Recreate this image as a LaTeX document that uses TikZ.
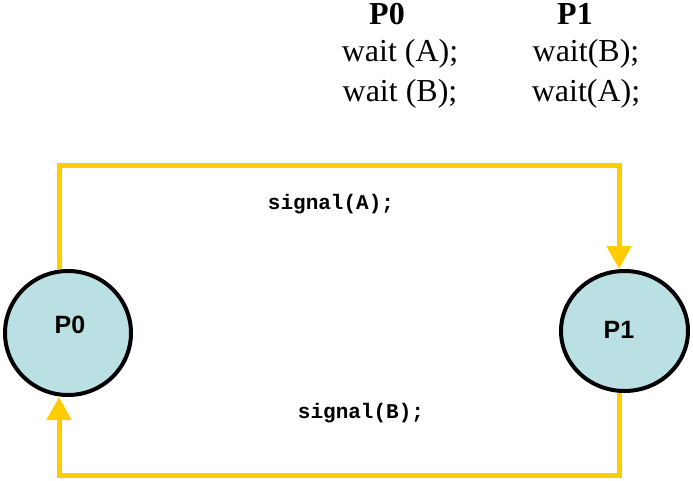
\documentclass[tikz,border=0pt]{standalone}
\usepackage{fontspec}
\setmainfont{Liberation Serif}
\newfontfamily\arialf{Liberation Sans}
\newfontfamily\courf{Liberation Mono}
\usetikzlibrary{shapes.geometric,arrows.meta}
\definecolor{flowyellow}{HTML}{FFCC00}
\definecolor{procblue}{HTML}{BBE0E3}
\tikzset{
  proc/.style={ellipse, draw=black, line width=4pt, fill=procblue, inner sep=0pt},
  proclabel/.style={anchor=base, inner sep=0pt, font=\arialf\bfseries\fontsize{25}{28}\selectfont},
  flow/.style={draw=flowyellow, line width=5pt, line join=miter, line cap=butt},
  flowtip/.style={-{Triangle[width=24pt,length=23pt]}},
  code/.style={anchor=base, inner sep=0pt, font=\fontsize{32}{38}\selectfont},
  codehead/.style={anchor=base, inner sep=0pt, font=\bfseries\fontsize{32}{38}\selectfont},
  sig/.style={anchor=base, inner sep=0pt, font=\courf\bfseries\fontsize{21}{24}\selectfont},
}
\begin{document}
\begin{tikzpicture}[x=1pt,y=-1pt]
\useasboundingbox (0,0) rectangle (693,480);
% header text
\node[codehead] (h0) at (387,24) {P0};
\node[codehead] (h1) at (575,24) {P1};
\node[code] (w0a) at (400,61) {wait (A);};
\node[code] (w0b) at (400,101) {wait (B);};
\node[code] (w1b) at (586,61) {wait(B);};
\node[code] (w1a) at (586,101) {wait(A);};
% processes
\node[proc, minimum width=126pt, minimum height=124pt] (P0) at (68,333) {};
\node[proc, minimum width=127pt, minimum height=120pt] (P1) at (624.5,331) {};
\node[proclabel] (P0t) at (70,333) {P0};
\node[proclabel] (P1t) at (619,338) {P1};
% routing coordinates
\coordinate (top) at (340,165);
\coordinate (bot) at (340,475);
\coordinate (a) at ([xshift=-9pt]P0.north);
\coordinate (b) at ([xshift=-5.5pt]P1.north);
\coordinate (c) at ([xshift=-5.5pt]P1.south);
\coordinate (d) at ([xshift=-9pt]P0.south);
% connectors
\draw[flow, flowtip] (a) -- (a |- top) -- (b |- top) -- (b);
\draw[flow, flowtip] (c) -- (c |- bot) -- (d |- bot) -- (d);
% labels
\node[sig] (sA) at (331,209) {signal(A);};
\node[sig] (sB) at (361,418) {signal(B);};
\end{tikzpicture}
\end{document}
